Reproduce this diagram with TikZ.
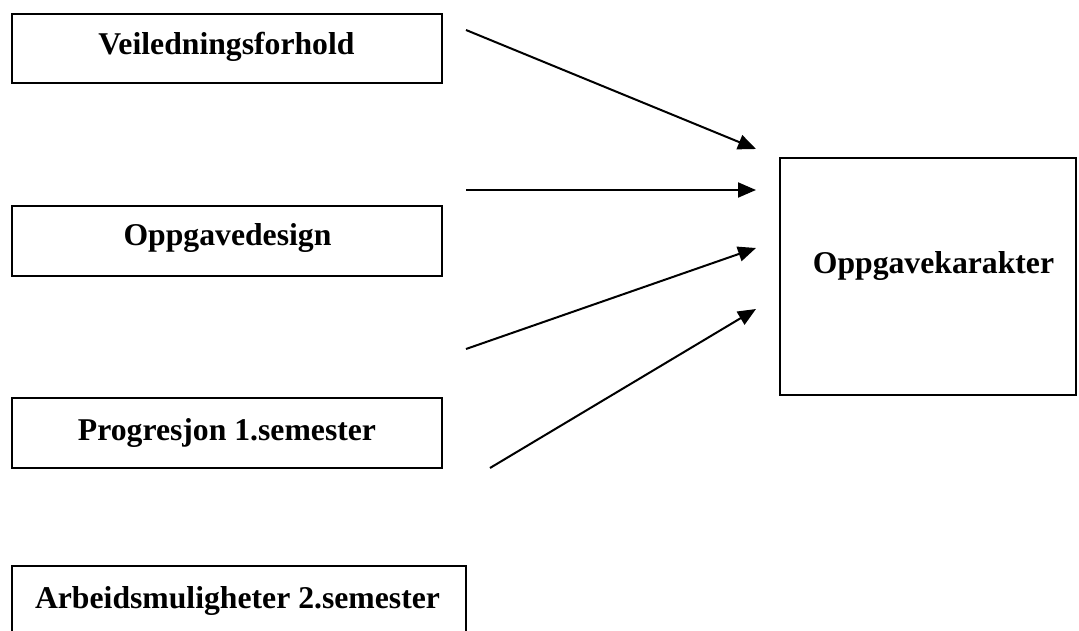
\documentclass[tikz,border=0pt]{standalone}
\usepackage{fontspec}
\setmainfont{Liberation Serif}
\usetikzlibrary{arrows.meta}
\begin{document}
\begin{tikzpicture}[x=1pt,y=-1pt,
  box/.style={draw, line width=2pt, rectangle, inner sep=0pt, outer sep=0pt},
  lbl/.style={anchor=base, inner sep=0pt, font=\fontsize{31.7}{38}\selectfont\bfseries},
  arr/.style={line width=2pt, -{Triangle[length=18pt,width=15pt]}}]
\useasboundingbox (0,0) rectangle (1079,631);
\node[box, minimum width=430pt, minimum height=69pt] (b1) at (227,48.5) {};
\node[box, minimum width=430pt, minimum height=70pt] (b2) at (227,241) {};
\node[box, minimum width=430pt, minimum height=70pt] (b3) at (227,433) {};
\node[box, minimum width=454pt, minimum height=70pt] (b4) at (239,601) {};
\node[box, minimum width=296pt, minimum height=237pt] (b5) at (928,276.5) {};
\node[lbl] (t1) at (226.5,55) {Veiledningsforhold};
\node[lbl] (t2) at (227.5,246) {Oppgavedesign};
\node[lbl] (t3) at (227,440) {Progresjon 1.semester};
\node[lbl] (t4) at (237.5,608) {Arbeidsmuligheter 2.semester};
\node[lbl] (t5) at (933.5,273) {Oppgavekarakter};
\coordinate (s1) at (466,30);
\coordinate (e1) at (756,149);
\coordinate (s2) at (466,190);
\coordinate (e2) at (756,190);
\coordinate (s3) at (466,349);
\coordinate (e3) at (756,248);
\coordinate (s4) at (490,468);
\coordinate (e4) at (756,309);
\draw[arr] (s1) -- (e1);
\draw[arr] (s2) -- (e2);
\draw[arr] (s3) -- (e3);
\draw[arr] (s4) -- (e4);
\end{tikzpicture}
\end{document}
